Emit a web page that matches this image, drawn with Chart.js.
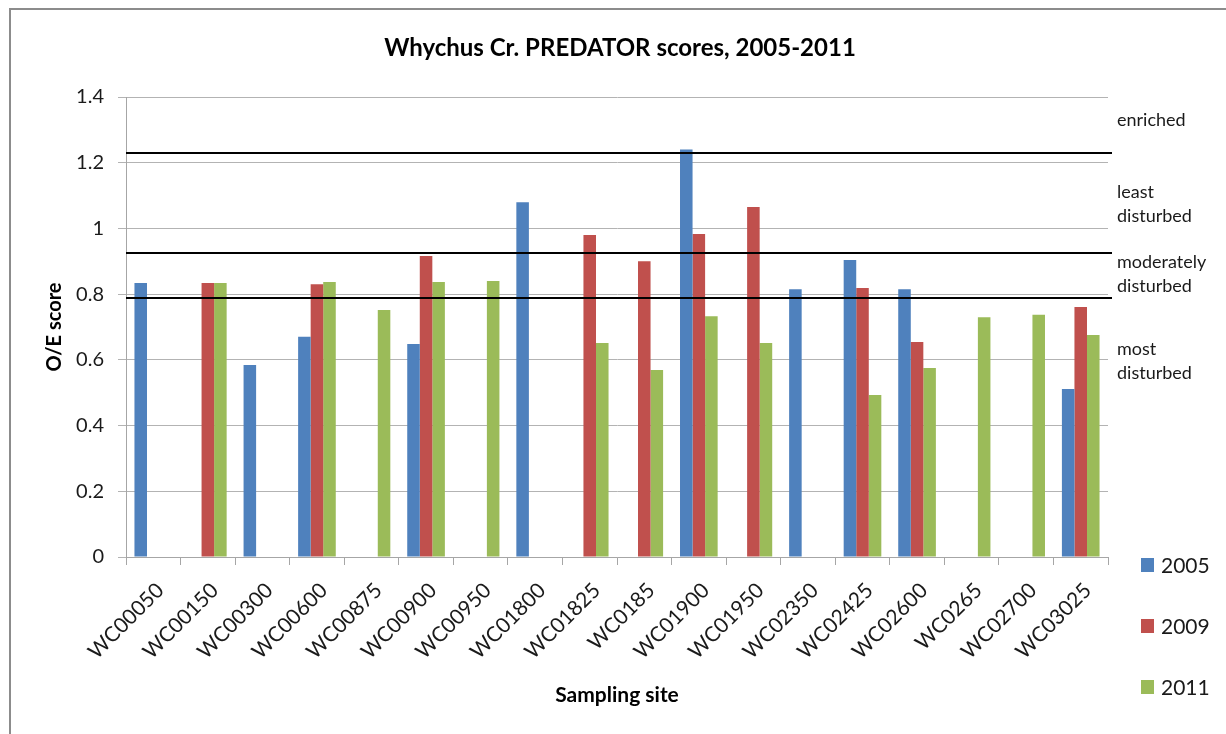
<!DOCTYPE html>
<html lang="en">
<head>
<meta charset="UTF-8">
<title>Whychus Cr. PREDATOR scores</title>
<script src="https://cdn.jsdelivr.net/npm/chart.js@4.4.1/dist/chart.umd.min.js"></script>
<style>
    body { margin: 0; background: #fff; }
    #wrap { position: relative; width: 1226px; height: 734px; }
</style>
</head>
<body>
<div id="wrap"><canvas id="predatorChart"></canvas></div>
<script>
// data
const sites = ['WC00050', 'WC00150', 'WC00300', 'WC00600', 'WC00875', 'WC00900', 'WC00950', 'WC01800', 'WC01825',
    'WC0185', 'WC01900', 'WC01950', 'WC02350', 'WC02425', 'WC02600', 'WC0265', 'WC02700', 'WC03025'];
const years = ['2005', '2009', '2011'];
const scores2005 = [0.834, null, 0.584, 0.67, null, 0.648, null, 1.08, null, null, 1.24, null, 0.815, 0.904, 0.815, null, null, 0.511];
const scores2009 = [null, 0.834, null, 0.83, null, 0.916, null, null, 0.98, 0.9, 0.983, 1.065, null, 0.819, 0.654, null, null, 0.761];
const scores2011 = [null, 0.834, null, 0.837, 0.752, 0.837, 0.84, null, 0.651, 0.569, 0.733, 0.651, null, 0.493, 0.575, 0.73, 0.737, 0.676];
const thresholds = [1.23, 0.925, 0.787];
const zoneNames = [['enriched'], ['least', 'disturbed'], ['moderately', 'disturbed'], ['most', 'disturbed']];
const zoneAnchors = [1.33, 1.075, 0.86, 0.595];
const yTicks = [0, 0.2, 0.4, 0.6, 0.8, 1, 1.2, 1.4];

const chartTitle = 'Whychus Cr. PREDATOR scores, 2005-2011';
const colors = ['#4F81BD', '#C0504D', '#9BBB59'];
const FONT = 'Lato, "Open Sans", sans-serif';

// frame, title, threshold lines, zone labels, legend
const extras = {
    id: 'extras',
    beforeDraw(chart) {
        const ctx = chart.ctx;
        ctx.save();
        ctx.strokeStyle = '#8c8c8c';
        ctx.lineWidth = 2;
        ctx.beginPath();
        ctx.moveTo(10, 740);
        ctx.lineTo(10, 9);
        ctx.lineTo(1230, 9);
        ctx.stroke();

        ctx.fillStyle = '#000';
        ctx.font = 'bold 24px ' + FONT;
        ctx.textAlign = 'center';
        ctx.textBaseline = 'middle';
        ctx.fillText(chartTitle, 620, 48);
        ctx.restore();
    },
    afterDatasetsDraw(chart) {
        const ctx = chart.ctx;
        const y = chart.scales.y;
        const area = chart.chartArea;
        ctx.save();
        ctx.strokeStyle = '#000';
        ctx.lineWidth = 2;
        thresholds.forEach(v => {
            const py = Math.round(y.getPixelForValue(v));
            ctx.beginPath();
            ctx.moveTo(area.left, py);
            ctx.lineTo(area.right + 4, py);
            ctx.stroke();
        });

        ctx.fillStyle = '#1a1a1a';
        ctx.font = '18px ' + FONT;
        ctx.textAlign = 'left';
        ctx.textBaseline = 'middle';
        zoneNames.forEach((lines, i) => {
            const cy = y.getPixelForValue(zoneAnchors[i]);
            const start = cy - (lines.length - 1) * 12;
            lines.forEach((t, j) => ctx.fillText(t, area.right + 9, start + j * 24));
        });

        ctx.font = '21px ' + FONT;
        years.forEach((yr, i) => {
            const ly = 565 + i * 61;
            ctx.fillStyle = colors[i];
            ctx.fillRect(1141, ly - 7, 13, 14);
            ctx.fillStyle = '#1a1a1a';
            ctx.fillText(yr, 1161, ly + 1);
        });
        ctx.restore();
    }
};

new Chart(document.getElementById('predatorChart'), {
    type: 'bar',
    data: {
        labels: sites,
        datasets: [
            { label: years[0], data: scores2005, backgroundColor: colors[0] },
            { label: years[1], data: scores2009, backgroundColor: colors[1] },
            { label: years[2], data: scores2011, backgroundColor: colors[2] }
        ]
    },
    options: {
        responsive: true,
        maintainAspectRatio: false,
        animation: false,
        layout: { padding: { left: 0, right: 118, top: 97, bottom: 0 } },
        datasets: { bar: { categoryPercentage: 0.69, barPercentage: 1, skipNull: false } },
        plugins: {
            legend: { display: false },
            tooltip: { enabled: false },
            title: { display: false }
        },
        scales: {
            x: {
                grid: { display: true, drawOnChartArea: false, color: '#a6a6a6', tickLength: 8, offset: true },
                border: { color: '#a6a6a6', width: 1 },
                ticks: {
                    color: '#1a1a1a',
                    font: { family: FONT, size: 21 },
                    maxRotation: 45,
                    minRotation: 45,
                    autoSkip: false,
                    padding: 13,
                    labelOffset: 7
                },
                title: {
                    display: true,
                    text: 'Sampling site',
                    color: '#000',
                    font: { family: FONT, size: 21, weight: 'bold' },
                    padding: { top: 0, bottom: 26 }
                },
                afterFit: s => { s.height = 734 - 557; }
            },
            y: {
                min: 0,
                max: 1.4,
                afterBuildTicks: s => { s.ticks = yTicks.map(v => ({ value: v })); },
                grid: { color: '#b3b3b3', tickLength: 8 },
                border: { color: '#a6a6a6', width: 1 },
                ticks: {
                    color: '#1a1a1a',
                    font: { family: FONT, size: 20 },
                    padding: 14,
                    callback: v => String(v)
                },
                title: {
                    display: true,
                    text: 'O/E score',
                    color: '#000',
                    font: { family: FONT, size: 20, weight: 'bold' },
                    padding: { top: 43, bottom: 0 }
                },
                afterFit: s => { s.width = 126; }
            }
        }
    },
    plugins: [extras]
});
</script>
</body>
</html>
